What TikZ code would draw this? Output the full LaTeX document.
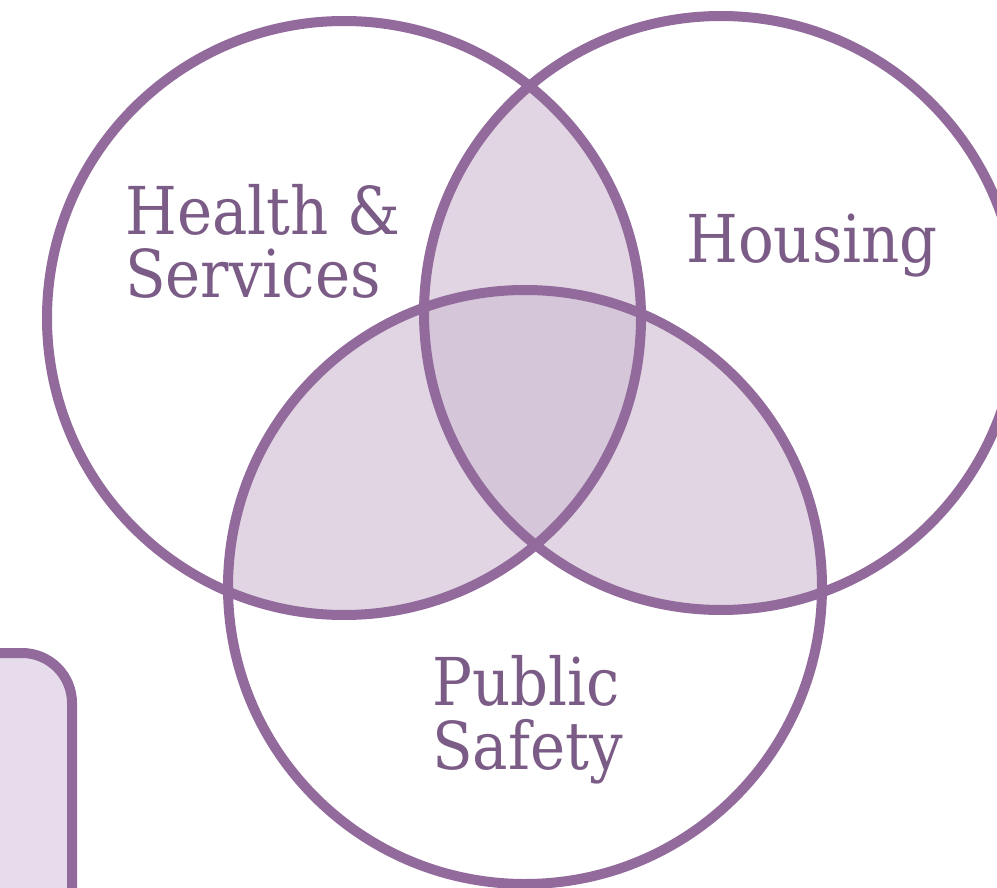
\documentclass[tikz,border=0pt]{standalone}
\usepackage{fontspec}
\newfontfamily\slabfont{DejaVu Serif Condensed}
\usetikzlibrary{positioning}
\definecolor{plum}{HTML}{926A9B}
\definecolor{plumtext}{HTML}{7B5C86}
\definecolor{lilac}{HTML}{E1D5E4}
\definecolor{lilacdark}{HTML}{D5C6D9}
\definecolor{boxfill}{HTML}{E7DCEB}
\tikzset{
    %Define style for the rings
    ring/.style={
           draw=plum,
           line width=10pt},
    %Define style for the labels
    lbl/.style={
           inner sep=0pt,
           align=left,
           text=plumtext,
           font=\slabfont\fontsize{66}{64}\selectfont},
    %Overlap fills
    overlap/.style={fill=lilac},
    core/.style={fill=lilacdark}
}
\begin{document}
\begin{tikzpicture}[x=1pt,y=-1pt]
\useasboundingbox (0,0) rectangle (997,888);
\clip (0,0) rectangle (997,888);
%circle centres
\coordinate (hs) at (344,318);
\coordinate (ho) at (721,313);
\coordinate (ps) at (525,587);
%pairwise overlaps
\begin{scope}
  \clip (hs) circle[radius=297pt];
  \path[overlap] (ho) circle[radius=297pt];
  \path[overlap] (ps) circle[radius=297pt];
\end{scope}
\begin{scope}
  \clip (ho) circle[radius=297pt];
  \path[overlap] (ps) circle[radius=297pt];
\end{scope}
%centre overlap
\begin{scope}
  \clip (hs) circle[radius=297pt];
  \clip (ho) circle[radius=297pt];
  \path[core] (ps) circle[radius=297pt];
\end{scope}
%rings
\draw[ring] (hs) circle[radius=297pt];
\draw[ring] (ho) circle[radius=297pt];
\draw[ring] (ps) circle[radius=297pt];
%box at lower left
\draw[ring, fill=boxfill, rounded corners=50pt] (-80,653) rectangle (72,960);
%labels (base = last line)
\node[lbl, anchor=base west] (health) at (125,298) {Health \&\\Services};
\node[lbl, anchor=base west] (housing) at (686,262) {Housing};
\node[lbl, anchor=base west] (safety) at (432,769) {Public\\Safety};
\end{tikzpicture}
\end{document}
